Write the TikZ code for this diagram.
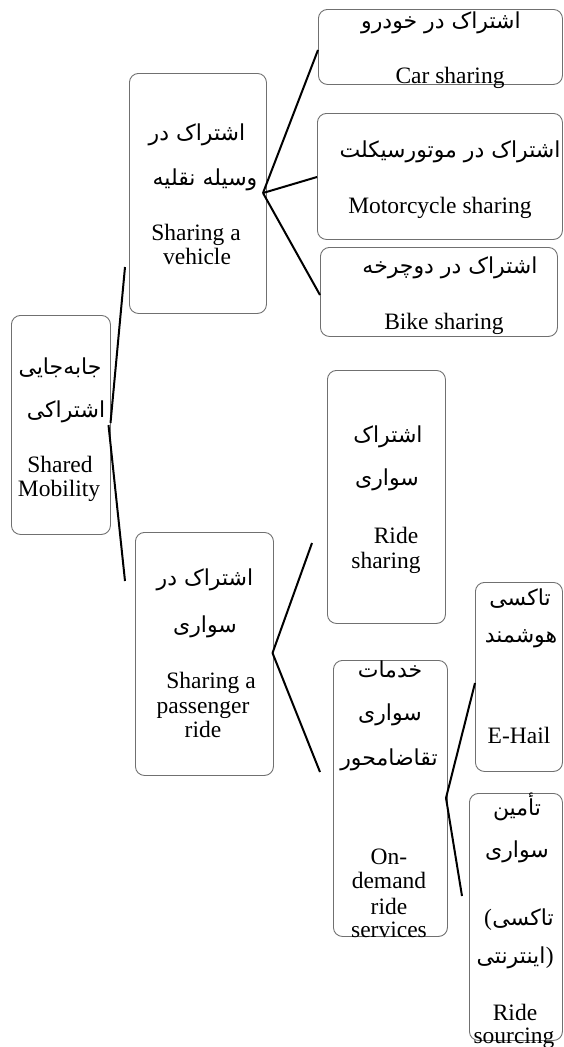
\documentclass[tikz,border=0pt]{standalone}
\usepackage{fontspec}
\setmainfont{Liberation Serif}
\newfontfamily\fafont[Script=Arabic]{DejaVu Sans}
\TeXXeTstate=1
\definecolor{boxgray}{RGB}{112,112,112}
\begin{document}
\begin{tikzpicture}[x=1pt,y=-1pt,
  box/.style={draw=boxgray, line width=0.9pt, rounded corners=9pt, inner sep=0pt, anchor=north west},
  conn/.style={line width=2pt, draw=black},
  en/.style={anchor=base, inner sep=0pt, font=\fontsize{23.5}{24}\selectfont},
  fa/.style={anchor=base, inner sep=0pt, font=\fontsize{22}{24}\fafont}]
\useasboundingbox (0,0) rectangle (563,1047);
% boxes
\node[box, minimum width=99pt,  minimum height=219pt] (shared)    at (11,315) {};
\node[box, minimum width=137pt, minimum height=240pt] (vehicle)   at (129,73) {};
\node[box, minimum width=138pt, minimum height=243pt] (passenger) at (135,532) {};
\node[box, minimum width=244pt, minimum height=75pt]  (car)       at (318,9) {};
\node[box, minimum width=245pt, minimum height=126pt] (moto)      at (317,113) {};
\node[box, minimum width=237pt, minimum height=89pt]  (bike)      at (320,247) {};
\node[box, minimum width=118pt, minimum height=253pt] (ridesh)    at (327,370) {};
\node[box, minimum width=114pt, minimum height=276pt] (ondemand)  at (333,660) {};
\node[box, minimum width=87pt,  minimum height=189pt] (ehail)     at (475,582) {};
\node[box, minimum width=93pt,  minimum height=247pt] (sourcing)  at (469,793) {};
% connector end points
\coordinate (sA) at (110.5,423);
\coordinate (sB) at (108.5,425);
\coordinate (vIn) at (125,267);
\coordinate (pIn) at (125,581);
\coordinate (vJ) at (263,193);
\coordinate (carIn) at (318,50);
\coordinate (motoIn) at (317,177);
\coordinate (bikeIn) at (320,295);
\coordinate (pJ) at (272.5,653);
\coordinate (rsIn) at (312,543);
\coordinate (odIn) at (320,772);
\coordinate (oJ) at (446,798);
\coordinate (ehIn) at (475,683);
\coordinate (soIn) at (462,896);
\draw[conn] (sA) -- (vIn);
\draw[conn] (sB) -- (pIn);
\draw[conn] (vJ) -- (carIn);
\draw[conn] (vJ) -- (motoIn);
\draw[conn] (vJ) -- (bikeIn);
\draw[conn] (pJ) -- (rsIn);
\draw[conn] (pJ) -- (odIn);
\draw[conn] (oJ) -- (ehIn);
\draw[conn] (oJ) -- (soIn);
% texts: car
\node[fa] (carfa) at (441,28) {\beginR اشتراک در خودرو\endR};
\node[en] (caren) at (450,83) {Car sharing};
% motorcycle
\node[fa] (motofa) at (450,157) {\beginR اشتراک در موتورسیکلت\endR};
\node[en] (motoen) at (440,213) {Motorcycle sharing};
% bike
\node[fa] (bikefa) at (450,273) {\beginR اشتراک در دوچرخه\endR};
\node[en] (bikeen) at (444,329) {Bike sharing};
% vehicle
\node[fa] (vfa1) at (197,140) {\beginR اشتراک در\endR};
\node[fa] (vfa2) at (205,185) {\beginR وسیله نقلیه\endR};
\node[en] (ven1) at (196,240) {Sharing a};
\node[en] (ven2) at (197,264) {vehicle};
% shared mobility
\node[fa] (sfa1) at (60,374) {\beginR جابه‌جایی\endR};
\node[fa] (sfa2) at (66,417) {\beginR اشتراکی\endR};
\node[en] (sen1) at (60,472) {Shared};
\node[en] (sen2) at (59,496) {Mobility};
% ride sharing
\node[fa] (rfa1) at (388,442) {\beginR اشتراک\endR};
\node[fa] (rfa2) at (387,485) {\beginR سواری\endR};
\node[en] (ren1) at (396,543) {Ride};
\node[en] (ren2) at (386,568) {sharing};
% passenger ride
\node[fa] (pfa1) at (205,585) {\beginR اشتراک در\endR};
\node[fa] (pfa2) at (205,632) {\beginR سواری\endR};
\node[en] (pen1) at (211,688) {Sharing a};
\node[en] (pen2) at (203,713) {passenger};
\node[en] (pen3) at (203,737) {ride};
% e-hail
\node[fa] (efa1) at (520,605) {\beginR تاکسی\endR};
\node[fa] (efa2) at (521,642) {\beginR هوشمند\endR};
\node[en] (een1) at (519,743) {E-Hail};
% on-demand
\node[fa] (ofa1) at (390,677) {\beginR خدمات\endR};
\node[fa] (ofa2) at (390,720) {\beginR سواری\endR};
\node[fa] (ofa3) at (389,765) {\beginR تقاضامحور\endR};
\node[en] (oen1) at (389,864) {On-};
\node[en] (oen2) at (389,888) {demand};
\node[en] (oen3) at (389,914) {ride};
\node[en] (oen4) at (389,937) {services};
% ride sourcing
\node[fa] (qfa1) at (517,815) {\beginR تأمین\endR};
\node[fa] (qfa2) at (517,857) {\beginR سواری\endR};
\node[fa] (qfa3) at (523,925) {\beginR تاکسی\endR};
\node[en, anchor=base east] (qp1) at (qfa3.base west) {(};
\node[fa] (qfa4) at (511,963) {\beginR اینترنتی\endR};
\node[en, anchor=base west] (qp2) at (qfa4.base east) {)};
\node[en] (qen1) at (515,1020) {Ride};
\node[en] (qen2) at (514,1043) {sourcing};
\end{tikzpicture}
\end{document}
